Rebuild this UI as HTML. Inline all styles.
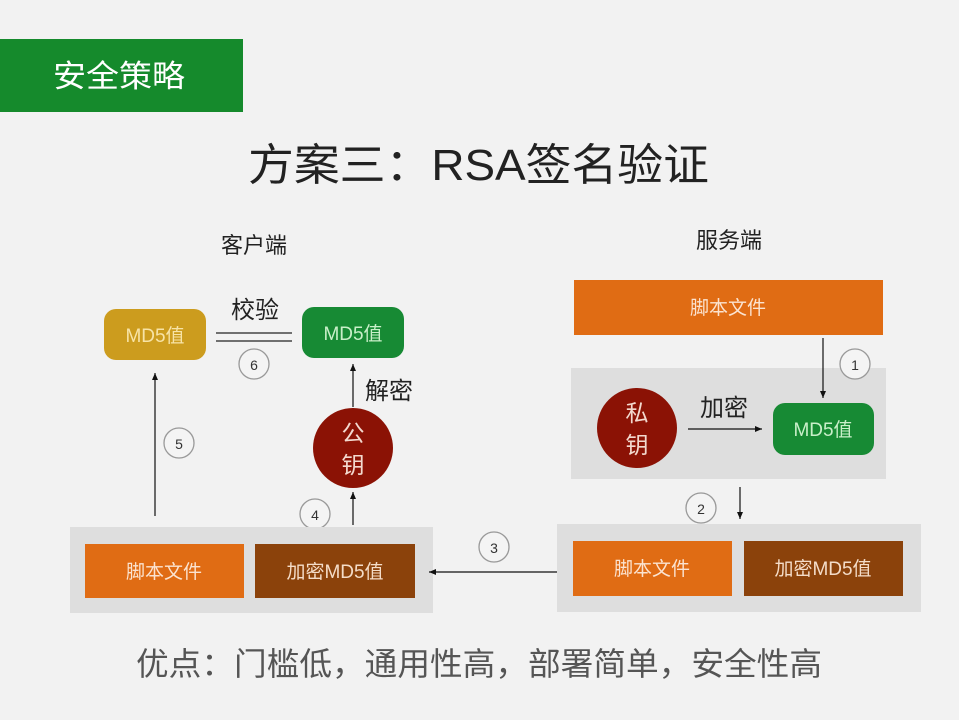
<!DOCTYPE html>
<html><head><meta charset="utf-8"><style>
html,body{margin:0;padding:0;background:#f2f2f2;}
svg{display:block;}
text{font-family:"Liberation Sans","Noto Sans CJK SC",sans-serif;}
</style></head><body>
<svg width="959" height="720" viewBox="0 0 959 720" xmlns="http://www.w3.org/2000/svg">
<defs>
<marker id="ah" markerWidth="8" markerHeight="8" refX="7" refY="4" orient="auto" markerUnits="userSpaceOnUse">
<path d="M0,1 L7,4 L0,7 Z" fill="#111"/>
</marker>
</defs>
<rect width="959" height="720" fill="#f2f2f2"/>
<!-- header -->
<rect x="0" y="39" width="243" height="73" fill="#158a2c"/>
<text x="53" y="87" font-size="31" fill="#fff" textLength="132" lengthAdjust="spacingAndGlyphs">安全策略</text>
<text x="248" y="180" font-size="44" fill="#222" textLength="461" lengthAdjust="spacingAndGlyphs">方案三：RSA签名验证</text>
<text x="254" y="253" font-size="22" fill="#222" text-anchor="middle">客户端</text>
<text x="729" y="248" font-size="22" fill="#222" text-anchor="middle">服务端</text>

<!-- client -->
<rect x="104" y="309" width="102" height="51" rx="12" fill="#cc9c1e"/>
<text x="155" y="342" font-size="19" fill="#f7e3a6" text-anchor="middle">MD5值</text>
<rect x="302" y="307" width="102" height="51" rx="12" fill="#178a34"/>
<text x="353" y="340" font-size="19" fill="#c9efc9" text-anchor="middle">MD5值</text>
<text x="255" y="318" font-size="24" fill="#222" text-anchor="middle">校验</text>
<line x1="216" y1="333" x2="292" y2="333" stroke="#222" stroke-width="1.3"/>
<line x1="216" y1="341" x2="292" y2="341" stroke="#222" stroke-width="1.3"/>
<circle cx="254" cy="364" r="15" fill="#f4f4f4" stroke="#999" stroke-width="1.3"/>
<text x="254" y="370" font-size="14" fill="#333" text-anchor="middle">6</text>

<line x1="155" y1="516" x2="155" y2="373" stroke="#111" stroke-width="1.2" marker-end="url(#ah)"/>
<circle cx="179" cy="443" r="15" fill="#f4f4f4" stroke="#999" stroke-width="1.3"/>
<text x="179" y="449" font-size="14" fill="#333" text-anchor="middle">5</text>

<circle cx="353" cy="448" r="40" fill="#8b1205"/>
<text x="353" y="441" font-size="23" fill="#f3d9cf" text-anchor="middle">公</text>
<text x="353" y="473" font-size="23" fill="#f3d9cf" text-anchor="middle">钥</text>
<line x1="353" y1="407" x2="353" y2="364" stroke="#111" stroke-width="1.2" marker-end="url(#ah)"/>
<text x="389" y="399" font-size="24" fill="#222" text-anchor="middle">解密</text>
<line x1="353" y1="525" x2="353" y2="492" stroke="#111" stroke-width="1.2" marker-end="url(#ah)"/>
<circle cx="315" cy="514" r="15" fill="#f4f4f4" stroke="#999" stroke-width="1.3"/>
<text x="315" y="520" font-size="14" fill="#333" text-anchor="middle">4</text>

<rect x="70" y="527" width="363" height="86" fill="#dedede"/>
<rect x="85" y="544" width="159" height="54" fill="#e06c14"/>
<text x="164" y="578" font-size="19" fill="#fbe3d0" text-anchor="middle">脚本文件</text>
<rect x="255" y="544" width="160" height="54" fill="#8b420b"/>
<text x="335" y="578" font-size="19" fill="#f4dcc8" text-anchor="middle">加密MD5值</text>

<line x1="563" y1="572" x2="429" y2="572" stroke="#111" stroke-width="1.2" marker-end="url(#ah)"/>
<circle cx="494" cy="547" r="15" fill="#f4f4f4" stroke="#999" stroke-width="1.3"/>
<text x="494" y="553" font-size="14" fill="#333" text-anchor="middle">3</text>

<!-- server -->
<rect x="574" y="280" width="309" height="55" fill="#e06c14"/>
<text x="728" y="314" font-size="19" fill="#fbe3d0" text-anchor="middle">脚本文件</text>
<rect x="571" y="368" width="315" height="111" fill="#dedede"/>
<circle cx="637" cy="428" r="40" fill="#8b1205"/>
<text x="637" y="421" font-size="23" fill="#f3d9cf" text-anchor="middle">私</text>
<text x="637" y="453" font-size="23" fill="#f3d9cf" text-anchor="middle">钥</text>
<text x="724" y="416" font-size="24" fill="#222" text-anchor="middle">加密</text>
<line x1="688" y1="429" x2="762" y2="429" stroke="#111" stroke-width="1.2" marker-end="url(#ah)"/>
<rect x="773" y="403" width="101" height="52" rx="12" fill="#178a34"/>
<text x="823" y="436" font-size="19" fill="#c9efc9" text-anchor="middle">MD5值</text>
<line x1="823" y1="338" x2="823" y2="398" stroke="#111" stroke-width="1.2" marker-end="url(#ah)"/>
<circle cx="855" cy="364" r="15" fill="#f4f4f4" stroke="#999" stroke-width="1.3"/>
<text x="855" y="370" font-size="14" fill="#333" text-anchor="middle">1</text>
<line x1="740" y1="487" x2="740" y2="519" stroke="#111" stroke-width="1.2" marker-end="url(#ah)"/>
<circle cx="701" cy="508" r="15" fill="#f4f4f4" stroke="#999" stroke-width="1.3"/>
<text x="701" y="514" font-size="14" fill="#333" text-anchor="middle">2</text>

<rect x="557" y="524" width="364" height="88" fill="#dedede"/>
<rect x="573" y="541" width="159" height="55" fill="#e06c14"/>
<text x="652" y="575" font-size="19" fill="#fbe3d0" text-anchor="middle">脚本文件</text>
<rect x="744" y="541" width="159" height="55" fill="#8b420b"/>
<text x="823" y="575" font-size="19" fill="#f4dcc8" text-anchor="middle">加密MD5值</text>

<text x="136" y="675" font-size="32" fill="#555" textLength="686" lengthAdjust="spacingAndGlyphs">优点：门槛低，通用性高，部署简单，安全性高</text>
</svg>
</body></html>
